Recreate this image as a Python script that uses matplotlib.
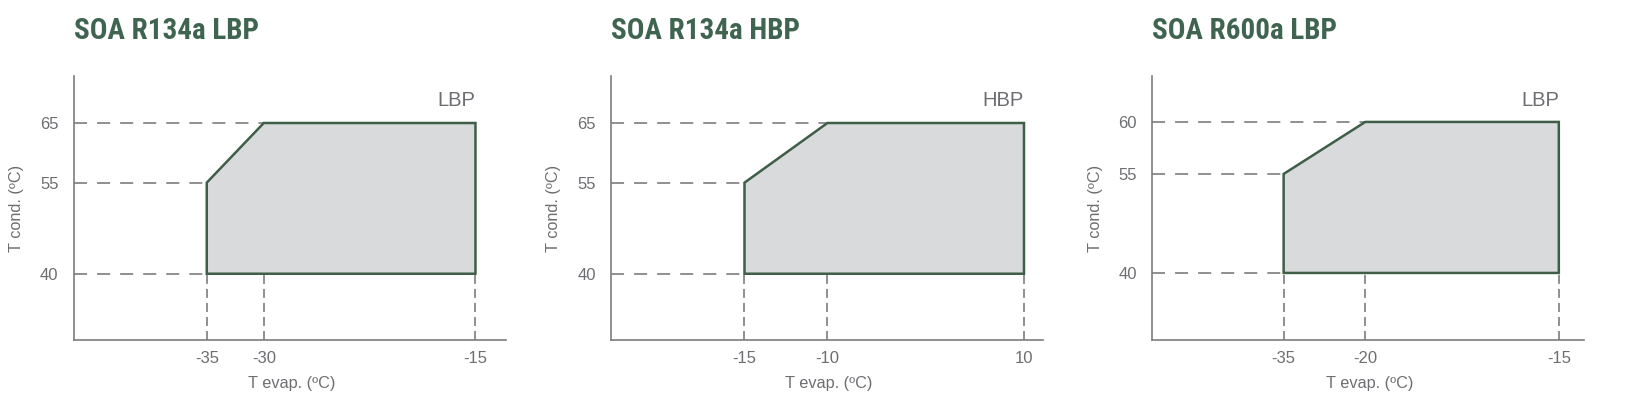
import numpy as np
import matplotlib
matplotlib.use('Agg')
import matplotlib.pyplot as plt

# --- data (operating envelopes) ---
titles = ['SOA R134a LBP', 'SOA R134a HBP', 'SOA R600a LBP']
tags = ['LBP', 'HBP', 'LBP']

r134a_lbp_evap = [-35, -35, -30, -15, -15]
r134a_lbp_cond = [40, 55, 65, 65, 40]

r134a_hbp_evap = [-15, -15, -10, 10, 10]
r134a_hbp_cond = [40, 55, 65, 65, 40]

r600a_lbp_evap = [-35, -35, -20, -15, -15]
r600a_lbp_cond = [40, 55, 60, 60, 40]

xticks_all = [[-35, -30, -15], [-15, -10, 10], [-35, -20, -15]]
yticks_all = [[40, 55, 65], [40, 55, 65], [40, 55, 60]]

# --- schematic (non-linear) axis layout: value anchors -> axes fraction ---
x_anchor_vals = [[-45, -35, -30, -15, -13], [-25, -15, -10, 10, 12], [-45, -35, -20, -15, -13]]
x_anchor_pos = [[0, .308, .440, .930, 1], [0, .309, .501, .956, 1], [0, .304, .493, .941, 1]]
y_anchor_vals = [[30, 40, 55, 65, 75], [30, 40, 55, 65, 75], [30, 40, 55, 60, 70]]
y_anchor_pos = [[0, .251, .596, .822, 1], [0, .251, .596, .822, 1], [0, .254, .629, .826, 1]]

evaps = [r134a_lbp_evap, r134a_hbp_evap, r600a_lbp_evap]
conds = [r134a_lbp_cond, r134a_hbp_cond, r600a_lbp_cond]

TXT = '#6d6e71'
GREEN = '#3f6550'
EDGE = '#3e5e48'
FILL = '#d9dadb'
DASH = '#7d7d7d'

plt.rcParams.update({
    'font.family': ['Liberation Sans', 'DejaVu Sans'],
    'lines.scale_dashes': False,
    'axes.unicode_minus': False,
})


def piecewise(vals, pos):
    fwd = lambda v: np.interp(v, vals, pos)
    inv = lambda p: np.interp(p, pos, vals)
    return fwd, inv


W, H = 1628, 409
fig = plt.figure(figsize=(W / 100, H / 100), dpi=100)

lefts = [73.7, 611, 1152.3]
for i in range(3):
    ax = fig.add_axes([lefts[i] / W, (H - 340) / H, 432 / W, 264 / H])
    ax.set_xscale('function', functions=piecewise(x_anchor_vals[i], x_anchor_pos[i]))
    ax.set_yscale('function', functions=piecewise(y_anchor_vals[i], y_anchor_pos[i]))
    ax.set_xlim(x_anchor_vals[i][0], x_anchor_vals[i][-1])
    ax.set_ylim(y_anchor_vals[i][0], y_anchor_vals[i][-1])

    ev, co = evaps[i], conds[i]
    x0 = ax.get_xlim()[0]
    y0 = ax.get_ylim()[0]

    # guide lines
    for yv in yticks_all[i]:
        xs = min(e for e, c in zip(ev, co) if c == yv)
        ax.plot([x0, xs], [yv, yv], color=DASH, lw=1.2, dashes=(9.4, 7.2), zorder=1)
    for xv in xticks_all[i]:
        ax.plot([xv, xv], [y0, min(co)], color=DASH, lw=1.2, dashes=(6.5, 3.6), zorder=1)

    ax.fill(ev, co, facecolor=FILL, edgecolor=EDGE, lw=1.8, zorder=2)

    ax.set_xticks(xticks_all[i])
    ax.set_yticks(yticks_all[i])
    ax.tick_params(length=0, labelsize=12, labelcolor=TXT)
    ax.tick_params(axis='x', pad=8)
    ax.tick_params(axis='y', pad=11)
    ax.minorticks_off()

    for s in ['top', 'right']:
        ax.spines[s].set_visible(False)
    for s in ['left', 'bottom']:
        ax.spines[s].set_color(DASH)
        ax.spines[s].set_linewidth(1.2)

    ax.set_xlabel('T evap. (ºC)', fontsize=11.7, color=TXT, va='center')
    ax.xaxis.set_label_coords(0.504, -0.163)
    ax.set_ylabel('T cond. (ºC)', fontsize=11.7, color=TXT, va='center')
    ax.yaxis.set_label_coords(-0.132, 0.5)

    ax.text(xticks_all[i][-1], 0.909, tags[i], transform=ax.get_xaxis_transform(),
            ha='right', va='center', fontsize=14.5, color=TXT)
    ax.text(0, (340 - 39) / 264, titles[i], transform=ax.transAxes, ha='left', va='baseline',
            fontsize=21, fontweight='bold', fontstretch='condensed', color=GREEN,
            family=['Roboto Condensed', 'DejaVu Sans'])

plt.savefig('out.png', dpi=100)
